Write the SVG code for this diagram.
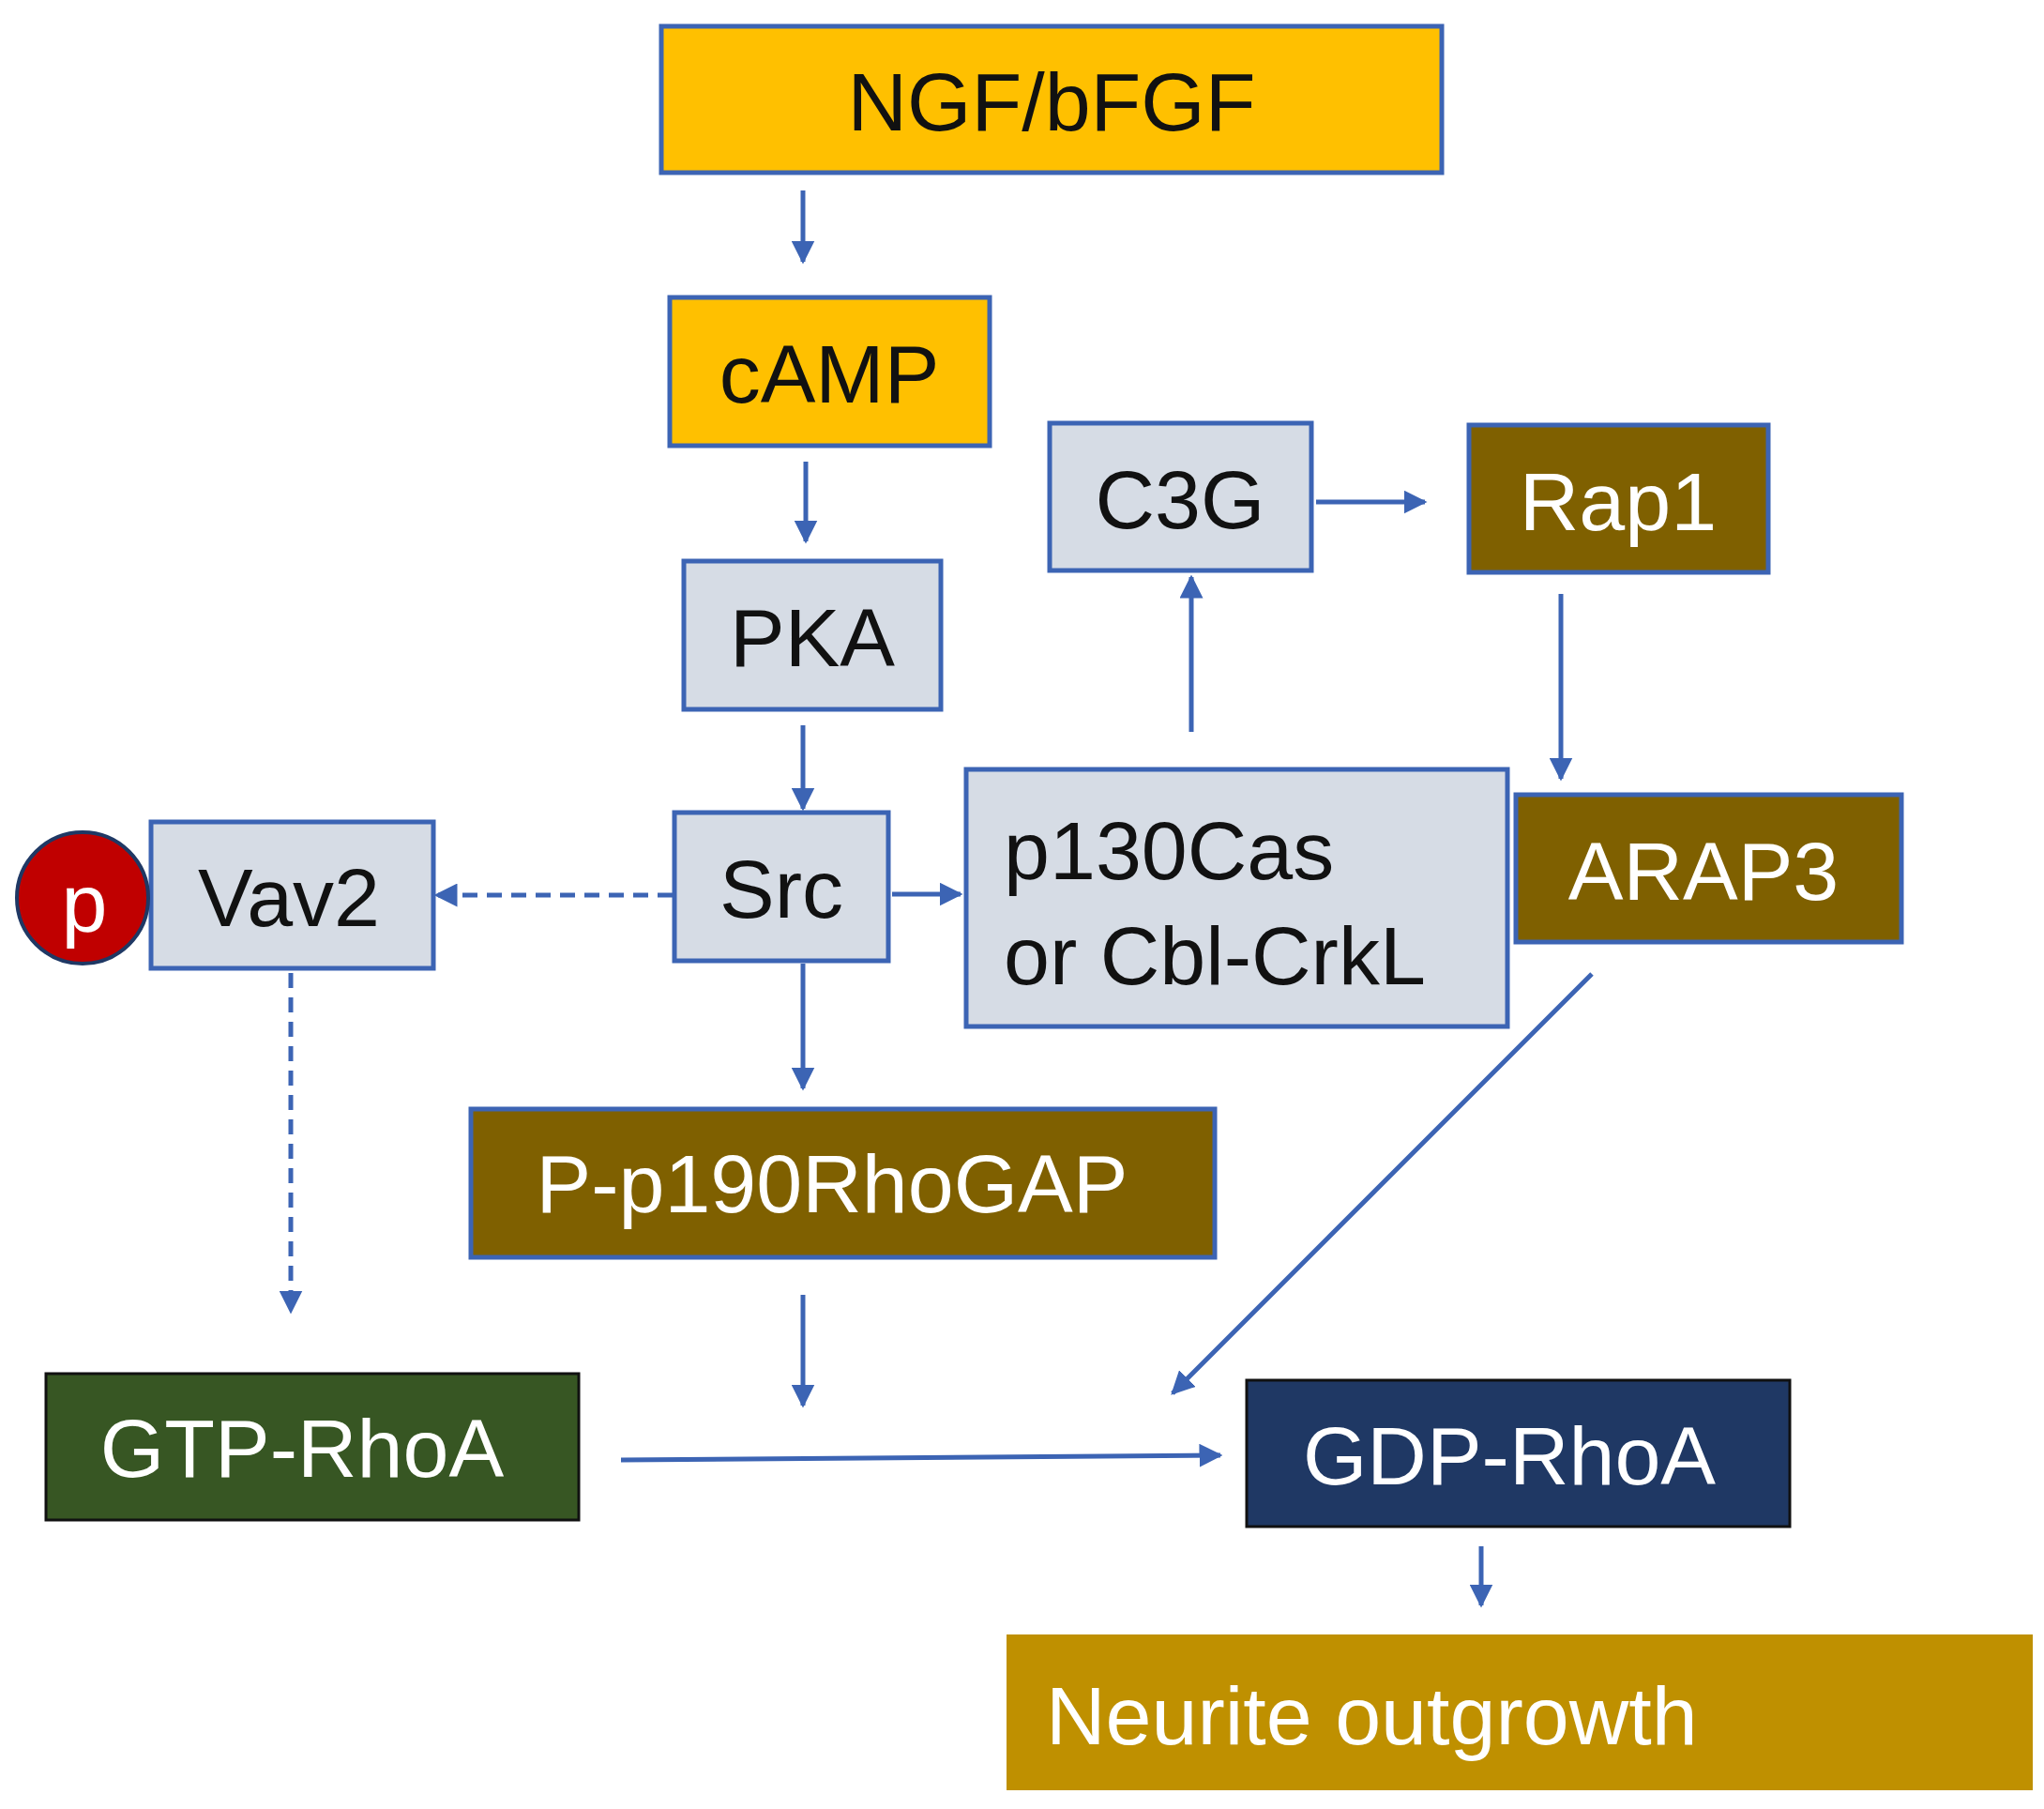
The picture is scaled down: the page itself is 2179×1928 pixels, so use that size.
<svg xmlns="http://www.w3.org/2000/svg" width="2179" height="1928" viewBox="0 0 2179 1928">
<style>
.b{stroke:#3C64B4;stroke-width:5}
.y{fill:#FFC000}.g{fill:#D6DCE5}.br{fill:#7F6000}
t,text{font-family:"Liberation Sans",Arial,sans-serif;font-size:88px;text-anchor:middle;dominant-baseline:central}
.w{fill:#fff}.k{fill:#111}
.c{stroke:#3C64B4;stroke-width:5;fill:none;marker-end:url(#a)}
.d{stroke-dasharray:16 10}
</style>
<defs><marker id="a" viewBox="0 0 10 10" refX="9" refY="5" markerWidth="5" markerHeight="5" orient="auto" markerUnits="strokeWidth"><path d="M0,0L10,5L0,10z" fill="#3C64B4"/></marker></defs>
<rect width="2179" height="1928" fill="#fff"/>
<g id="ngf"><rect class="b y" x="705" y="28" width="832" height="156"/><text class="k" x="1121" y="108">NGF/bFGF</text></g>
<g id="camp"><rect class="b y" x="714" y="317" width="341" height="158"/><text class="k" x="884" y="398">cAMP</text></g>
<g id="pka"><rect class="b g" x="729" y="598" width="274" height="158"/><text class="k" x="866" y="679">PKA</text></g>
<g id="c3g"><rect class="b g" x="1119" y="451" width="279" height="157"/><text class="k" x="1258" y="532">C3G</text></g>
<g id="rap1"><rect class="b br" x="1566" y="453" width="319" height="157"/><text class="w" x="1725" y="534">Rap1</text></g>
<g id="src"><rect class="b g" x="719" y="866" width="228" height="158"/><text class="k" x="833" y="947">Src</text></g>
<g id="vav2"><rect class="b g" x="161" y="876" width="301" height="156"/><text class="k" x="308" y="956">Vav2</text></g>
<g id="p"><circle cx="88" cy="957" r="70" fill="#C00000" stroke="#1F3864" stroke-width="4"/><text class="w" x="90" y="962">p</text></g>
<g id="p130"><rect class="b g" x="1030" y="820" width="577" height="274"/><text class="k" x="1070" y="906" style="text-anchor:start">p130Cas</text><text class="k" x="1070" y="1018" style="text-anchor:start">or Cbl-CrkL</text></g>
<g id="arap3"><rect class="b br" x="1616" y="847" width="411" height="157"/><text class="w" x="1816" y="928">ARAP3</text></g>
<g id="p190"><rect class="b br" x="502" y="1182" width="793" height="158"/><text class="w" x="887" y="1261">P-p190RhoGAP</text></g>
<g id="gtp"><rect fill="#375623" stroke="#111" stroke-width="3" x="49" y="1464" width="568" height="156"/><text class="w" x="322" y="1543">GTP-RhoA</text></g>
<g id="gdp"><rect fill="#1F3864" stroke="#111" stroke-width="3" x="1329" y="1471" width="579" height="156"/><text class="w" x="1609" y="1551">GDP-RhoA</text></g>
<g id="neurite"><rect fill="#BF9000" x="1073" y="1742" width="1094" height="166"/><text class="w" x="1115" y="1828" style="text-anchor:start">Neurite outgrowth</text></g>
<g id="connectors">
<line class="c" x1="856" y1="203" x2="856" y2="279"/>
<line class="c" x1="859" y1="492" x2="859" y2="577"/>
<line class="c" x1="856" y1="773" x2="856" y2="862"/>
<line class="c" x1="951" y1="953" x2="1024" y2="953"/>
<line class="c d" x1="717" y1="954" x2="465" y2="954"/>
<line class="c" x1="856" y1="1027" x2="856" y2="1160"/>
<line class="c" x1="1270" y1="780" x2="1270" y2="615"/>
<line class="c" x1="1403" y1="535" x2="1519" y2="535"/>
<line class="c" x1="1664" y1="633" x2="1664" y2="830"/>
<line class="c d" x1="310" y1="1037" x2="310" y2="1398"/>
<line class="c" x1="856" y1="1380" x2="856" y2="1498"/>
<line class="c" x1="1697" y1="1038" x2="1250" y2="1485"/>
<line class="c" x1="662" y1="1556" x2="1301" y2="1551"/>
<line class="c" x1="1579" y1="1648" x2="1579" y2="1711"/>
</g>
</svg>
